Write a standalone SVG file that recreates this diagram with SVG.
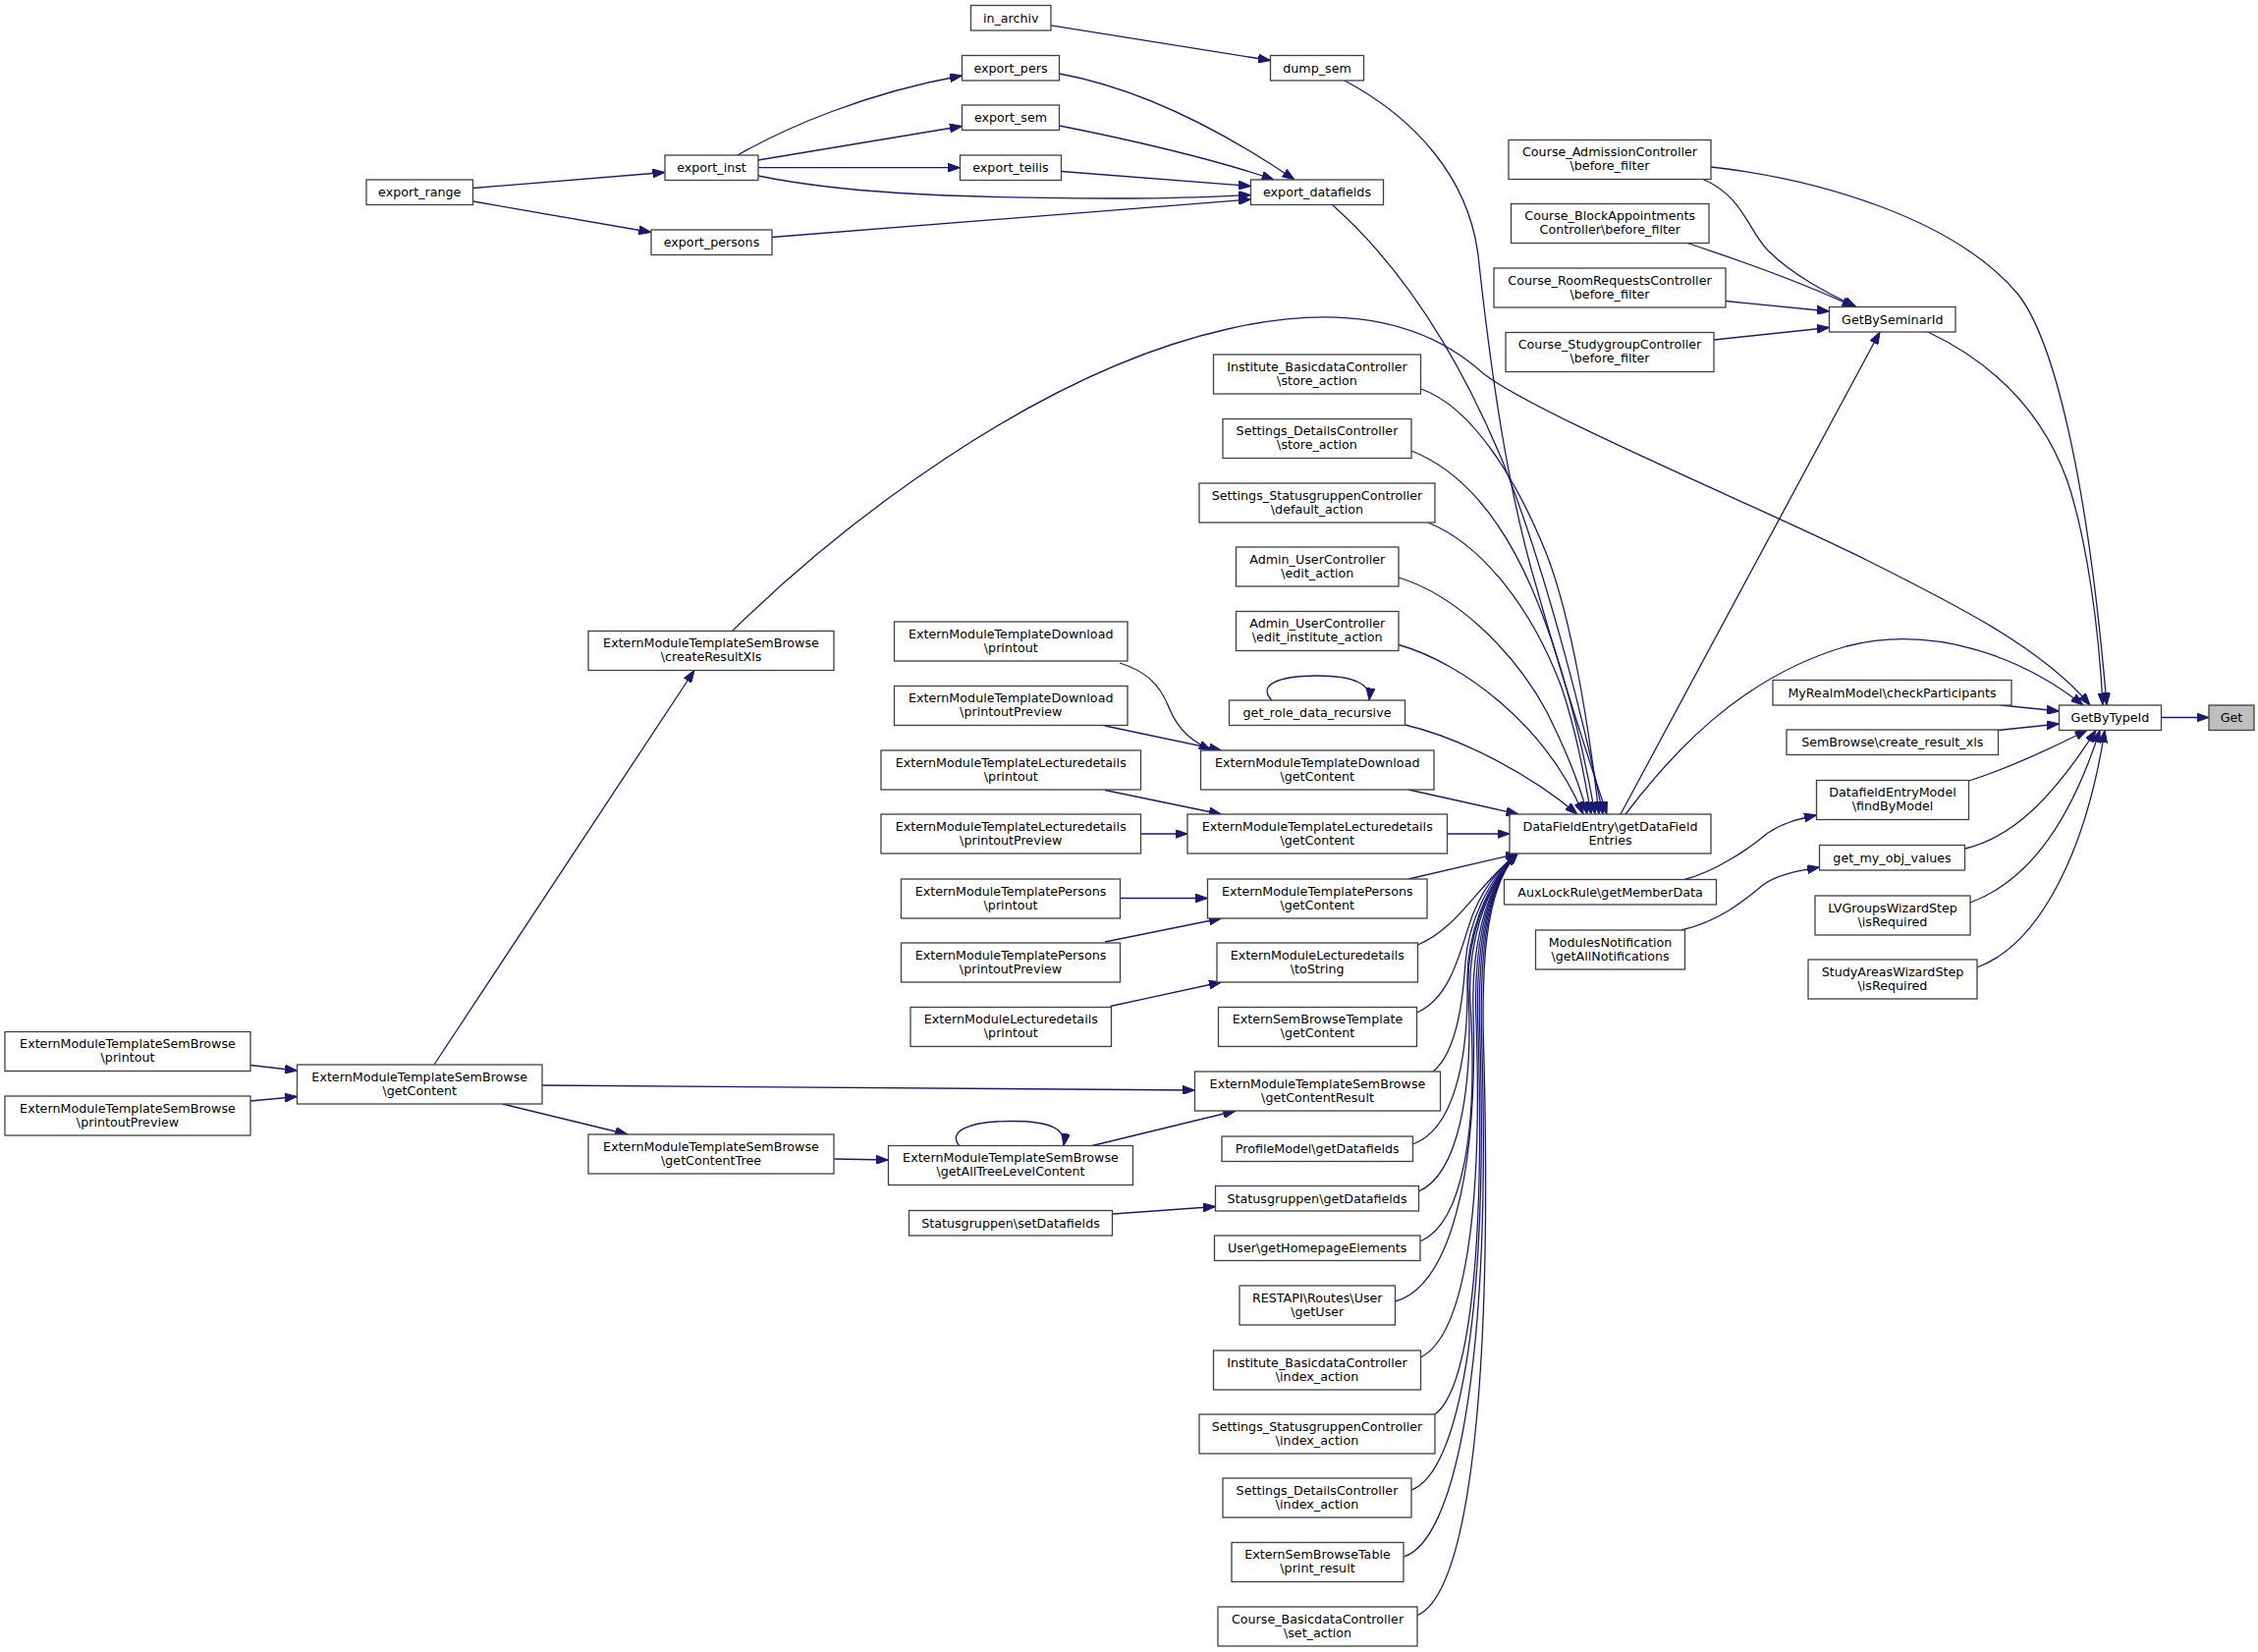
<svg xmlns="http://www.w3.org/2000/svg" width="2299" height="1682" viewBox="0 0 2299 1682">
<defs>
<style>
.node rect{fill:#ffffff;stroke:#404040;stroke-width:1.3}
.node text{font-family:"DejaVu Sans","Liberation Sans",sans-serif;font-size:12.7px;text-anchor:middle;fill:#000000}
#n_Get rect{fill:#bfbfbf}
#edges path{fill:none;stroke:#191970;stroke-width:1.3;marker-end:url(#ah)}
</style>
<marker id="ah" viewBox="0 0 12.5 9" markerWidth="12.5" markerHeight="9" refX="12.5" refY="4.5" orient="auto" markerUnits="userSpaceOnUse">
<path d="M0,0 L12.5,4.5 L0,9 Z" fill="#191970" stroke="#191970" stroke-width="1"/>
</marker>
</defs>
<rect x="0" y="0" width="2299" height="1682" fill="#ffffff"/>
<g id="edges">
<path d="M2200.5,730.5 L2249,730.5"/>
<path d="M1742,170 C1850,182 1990,222 2055,300 C2090,345 2125,480 2145,718"/>
<path d="M1963,338 C2030,370 2080,420 2105,490 C2125,550 2137,640 2141,718"/>
<path d="M745.5,642.5 C850,540 1050,380 1250,335 C1380,305 1460,335 1510,380 C1560,420 1800,520 1900,570 C1990,615 2080,660 2128,718"/>
<path d="M1655,829 C1700,770 1770,690 1880,658 C1970,635 2060,670 2121,718"/>
<path d="M2037,718 L2096.5,724"/>
<path d="M2034.5,743.5 L2096.5,737"/>
<path d="M2004.5,795 C2040,784 2080,766 2125,743.5"/>
<path d="M2001,864 C2050,852 2090,812 2134,743.5"/>
<path d="M2006,919 C2070,895 2110,830 2138,743.5"/>
<path d="M2013,985 C2080,960 2125,860 2143,743.5"/>
<path d="M1734,182.5 C1775,200 1780,235 1800,255 C1825,280 1860,298 1890,312.5"/>
<path d="M1718,247.5 C1780,268 1840,290 1888,312.5"/>
<path d="M1757,306.5 L1862.5,317"/>
<path d="M1745,346 L1862.5,333.5"/>
<path d="M1650,829 L1914,338"/>
<path d="M1369,82 C1440,120 1495,180 1505,260 C1518,380 1535,500 1565,600 C1590,690 1620,780 1636,829"/>
<path d="M1357,209 C1420,265 1480,350 1530,470 C1570,570 1610,720 1632,829"/>
<path d="M1447,396 C1500,415 1545,490 1575,565 C1600,630 1618,740 1628,829"/>
<path d="M1437,459 C1490,480 1530,530 1560,600 C1590,670 1612,760 1624,829"/>
<path d="M1454,532 C1510,555 1560,620 1590,700 C1605,745 1613,790 1620,829"/>
<path d="M1424,588 C1480,605 1540,660 1575,725 C1595,765 1609,800 1616,829"/>
<path d="M1424,656.5 C1490,675 1575,740 1612,829"/>
<path d="M1430.5,738 C1490,752 1560,790 1606,829"/>
<path d="M1295,713 C1280,698 1300,688 1341,688 C1380,688 1396,697 1394,713"/>
<path d="M1434,804 L1546,829"/>
<path d="M1473.5,849 L1537,849"/>
<path d="M1434,895 L1546,869"/>
<path d="M1443.5,962 C1485,945 1505,900 1545,869"/>
<path d="M1442.5,1031 C1480,1015 1488,960 1500,930 C1510,905 1525,885 1545,869"/>
<path d="M1459,1091 C1485,1070 1490,1010 1492,980 C1495,940 1515,895 1545,869"/>
<path d="M1438.5,1165 C1480,1150 1495,1080 1494,1000 C1493,955 1512,900 1545,869"/>
<path d="M1444.5,1213 C1485,1195 1500,1110 1495,1010 C1493,960 1510,905 1545,869"/>
<path d="M1446,1264 C1490,1245 1505,1150 1497,1020 C1494,965 1510,905 1545,869"/>
<path d="M1420.5,1325 C1475,1310 1505,1200 1500,1030 C1498,970 1510,905 1545,869"/>
<path d="M1446.5,1382 C1490,1360 1510,1240 1503,1040 C1500,975 1510,905 1545,869"/>
<path d="M1461,1440 C1495,1415 1512,1280 1505,1050 C1502,980 1510,905 1545,869"/>
<path d="M1437,1517 C1485,1500 1515,1340 1507,1060 C1504,985 1510,905 1545,869"/>
<path d="M1429,1585 C1480,1570 1518,1400 1509,1070 C1506,990 1510,905 1545,869"/>
<path d="M1442.5,1645 C1490,1625 1520,1450 1511,1080 C1508,995 1510,905 1545,869"/>
<path d="M481.5,191.5 L677,175.5"/>
<path d="M481.5,205 L663,236.5"/>
<path d="M751,158 C800,130 880,95 979.5,77"/>
<path d="M772,163 L979.5,128.5"/>
<path d="M772,170.7 L977.5,170.7"/>
<path d="M772,179 C850,195 950,202 1150,202 C1200,202 1240,200 1273.5,198.5"/>
<path d="M786,241.5 L1273.5,203"/>
<path d="M1080.5,174.5 L1273.5,189.5"/>
<path d="M1078.5,128 C1150,142 1240,163 1297,183"/>
<path d="M1078.5,75 C1160,90 1240,130 1318,183"/>
<path d="M1070,25.8 L1293.5,61.5"/>
<path d="M255,1084.5 L302.5,1090"/>
<path d="M255,1121 L302.5,1116.5"/>
<path d="M442,1084 L707,682.5"/>
<path d="M552,1105 L1216.5,1110"/>
<path d="M511.5,1124 L639,1155"/>
<path d="M849.5,1180 L904.5,1181"/>
<path d="M976.5,1166.5 C965,1152 985,1141.5 1030,1141.5 C1068,1141.5 1086,1149 1083,1166.5"/>
<path d="M1112,1166.5 L1258,1131"/>
<path d="M1133,1236 L1237.5,1228.5"/>
<path d="M1140,675 C1165,683 1180,695 1190,720 C1200,745 1215,755 1233,764"/>
<path d="M1125,739 L1243.5,764"/>
<path d="M1125,804.5 L1243.5,829"/>
<path d="M1161.5,849 L1209,849"/>
<path d="M1140.5,914.5 L1229.5,914.5"/>
<path d="M1125,959 L1243.5,935"/>
<path d="M1130.5,1024.5 L1243.5,1000"/>
<path d="M1715,895.5 C1745,888 1780,865 1800,848 C1815,838 1830,834 1849.5,830"/>
<path d="M1712,947 C1750,938 1775,918 1795,901 C1810,890 1830,887 1852.5,883"/>
</g>
<g id="n_Get" class="node"><rect x="2249" y="718" width="46" height="25.5"/><text x="2272" y="735">Get</text></g>
<g id="n_GetByTypeId" class="node"><rect x="2096.5" y="718" width="104" height="25.5"/><text x="2148.5" y="735">GetByTypeId</text></g>
<g id="n_GetBySeminarId" class="node"><rect x="1862.5" y="312.5" width="128.5" height="25.5"/><text x="1926.75" y="329.5">GetBySeminarId</text></g>
<g id="n_CourseAdmission" class="node"><rect x="1536" y="142.5" width="206" height="40"/><text><tspan x="1639" y="159">Course_AdmissionController</tspan><tspan x="1639" y="173">\before_filter</tspan></text></g>
<g id="n_CourseBlock" class="node"><rect x="1538.5" y="207.5" width="201.5" height="40"/><text><tspan x="1639.25" y="224">Course_BlockAppointments</tspan><tspan x="1639.25" y="238">Controller\before_filter</tspan></text></g>
<g id="n_CourseRoom" class="node"><rect x="1521" y="273" width="236" height="40"/><text><tspan x="1639" y="289.5">Course_RoomRequestsController</tspan><tspan x="1639" y="303.5">\before_filter</tspan></text></g>
<g id="n_CourseStudy" class="node"><rect x="1533" y="338.5" width="212" height="40"/><text><tspan x="1639" y="355">Course_StudygroupController</tspan><tspan x="1639" y="369">\before_filter</tspan></text></g>
<g id="n_MyRealm" class="node"><rect x="1805" y="692.5" width="243" height="25.5"/><text x="1926.5" y="709.5">MyRealmModel\checkParticipants</text></g>
<g id="n_SemBrowseXls" class="node"><rect x="1819" y="743" width="215.5" height="25.5"/><text x="1926.75" y="760">SemBrowse\create_result_xls</text></g>
<g id="n_FindByModel" class="node"><rect x="1849.5" y="794.5" width="155" height="40"/><text><tspan x="1927" y="811">DatafieldEntryModel</tspan><tspan x="1927" y="825">\findByModel</tspan></text></g>
<g id="n_GetMyObj" class="node"><rect x="1852.5" y="860.5" width="148" height="25.5"/><text x="1926.5" y="877.5">get_my_obj_values</text></g>
<g id="n_LVGroups" class="node"><rect x="1848" y="912" width="158" height="40"/><text><tspan x="1927" y="928.5">LVGroupsWizardStep</tspan><tspan x="1927" y="942.5">\isRequired</tspan></text></g>
<g id="n_StudyAreas" class="node"><rect x="1841" y="977" width="172" height="40"/><text><tspan x="1927" y="993.5">StudyAreasWizardStep</tspan><tspan x="1927" y="1007.5">\isRequired</tspan></text></g>
<g id="n_DFE" class="node"><rect x="1537" y="829" width="205" height="40"/><text><tspan x="1639.5" y="845.5">DataFieldEntry\getDataField</tspan><tspan x="1639.5" y="859.5">Entries</tspan></text></g>
<g id="n_AuxLock" class="node"><rect x="1531.5" y="895.5" width="216" height="25.5"/><text x="1639.5" y="912.5">AuxLockRule\getMemberData</text></g>
<g id="n_ModNotif" class="node"><rect x="1563.5" y="947" width="152" height="40"/><text><tspan x="1639.5" y="963.5">ModulesNotification</tspan><tspan x="1639.5" y="977.5">\getAllNotifications</tspan></text></g>
<g id="n_dump_sem" class="node"><rect x="1293.5" y="56.5" width="95" height="25.5"/><text x="1341" y="73.5">dump_sem</text></g>
<g id="n_export_datafields" class="node"><rect x="1273.5" y="183" width="135" height="25.5"/><text x="1341" y="200">export_datafields</text></g>
<g id="n_InstStore" class="node"><rect x="1235.5" y="361" width="211" height="40"/><text><tspan x="1341" y="377.5">Institute_BasicdataController</tspan><tspan x="1341" y="391.5">\store_action</tspan></text></g>
<g id="n_SetDetStore" class="node"><rect x="1245" y="426.5" width="192" height="40"/><text><tspan x="1341" y="443">Settings_DetailsController</tspan><tspan x="1341" y="457">\store_action</tspan></text></g>
<g id="n_SetStatDefault" class="node"><rect x="1221" y="492" width="240" height="40"/><text><tspan x="1341" y="508.5">Settings_StatusgruppenController</tspan><tspan x="1341" y="522.5">\default_action</tspan></text></g>
<g id="n_AdminEdit" class="node"><rect x="1258.5" y="557" width="165.5" height="40"/><text><tspan x="1341.25" y="573.5">Admin_UserController</tspan><tspan x="1341.25" y="587.5">\edit_action</tspan></text></g>
<g id="n_AdminEditInst" class="node"><rect x="1258.5" y="622.5" width="165.5" height="40"/><text><tspan x="1341.25" y="639">Admin_UserController</tspan><tspan x="1341.25" y="653">\edit_institute_action</tspan></text></g>
<g id="n_GetRole" class="node"><rect x="1251.5" y="713" width="179" height="25.5"/><text x="1341" y="730">get_role_data_recursive</text></g>
<g id="n_DLGetContent" class="node"><rect x="1222.5" y="764" width="237.5" height="40"/><text><tspan x="1341.25" y="780.5">ExternModuleTemplateDownload</tspan><tspan x="1341.25" y="794.5">\getContent</tspan></text></g>
<g id="n_LDGetContent" class="node"><rect x="1209" y="829" width="264.5" height="40"/><text><tspan x="1341.25" y="845.5">ExternModuleTemplateLecturedetails</tspan><tspan x="1341.25" y="859.5">\getContent</tspan></text></g>
<g id="n_PersGetContent" class="node"><rect x="1229.5" y="895" width="223.5" height="40"/><text><tspan x="1341.25" y="911.5">ExternModuleTemplatePersons</tspan><tspan x="1341.25" y="925.5">\getContent</tspan></text></g>
<g id="n_LecToString" class="node"><rect x="1239" y="960" width="204.5" height="40"/><text><tspan x="1341.25" y="976.5">ExternModuleLecturedetails</tspan><tspan x="1341.25" y="990.5">\toString</tspan></text></g>
<g id="n_SemBrowseTplGetContent" class="node"><rect x="1240.5" y="1025.5" width="202" height="40"/><text><tspan x="1341.5" y="1042">ExternSemBrowseTemplate</tspan><tspan x="1341.5" y="1056">\getContent</tspan></text></g>
<g id="n_GetContentResult" class="node"><rect x="1216.5" y="1091" width="250" height="40"/><text><tspan x="1341.5" y="1107.5">ExternModuleTemplateSemBrowse</tspan><tspan x="1341.5" y="1121.5">\getContentResult</tspan></text></g>
<g id="n_ProfileModel" class="node"><rect x="1244" y="1157" width="194.5" height="25.5"/><text x="1341.25" y="1174">ProfileModel\getDatafields</text></g>
<g id="n_StatGetDF" class="node"><rect x="1237.5" y="1207.5" width="207" height="25.5"/><text x="1341" y="1224.5">Statusgruppen\getDatafields</text></g>
<g id="n_UserHome" class="node"><rect x="1236.5" y="1258" width="209.5" height="25.5"/><text x="1341.25" y="1275">User\getHomepageElements</text></g>
<g id="n_RestUser" class="node"><rect x="1262" y="1309" width="158.5" height="40"/><text><tspan x="1341.25" y="1325.5">RESTAPI\Routes\User</tspan><tspan x="1341.25" y="1339.5">\getUser</tspan></text></g>
<g id="n_InstIndex" class="node"><rect x="1235.5" y="1375" width="211" height="40"/><text><tspan x="1341" y="1391.5">Institute_BasicdataController</tspan><tspan x="1341" y="1405.5">\index_action</tspan></text></g>
<g id="n_SetStatIndex" class="node"><rect x="1221" y="1440" width="240" height="40"/><text><tspan x="1341" y="1456.5">Settings_StatusgruppenController</tspan><tspan x="1341" y="1470.5">\index_action</tspan></text></g>
<g id="n_SetDetIndex" class="node"><rect x="1245" y="1505" width="192" height="40"/><text><tspan x="1341" y="1521.5">Settings_DetailsController</tspan><tspan x="1341" y="1535.5">\index_action</tspan></text></g>
<g id="n_SemBrowseTable" class="node"><rect x="1254" y="1570.5" width="175" height="40"/><text><tspan x="1341.5" y="1587">ExternSemBrowseTable</tspan><tspan x="1341.5" y="1601">\print_result</tspan></text></g>
<g id="n_CourseBasicSet" class="node"><rect x="1240" y="1636" width="203" height="40"/><text><tspan x="1341.5" y="1652.5">Course_BasicdataController</tspan><tspan x="1341.5" y="1666.5">\set_action</tspan></text></g>
<g id="n_in_archiv" class="node"><rect x="988.5" y="5.5" width="81.5" height="25.5"/><text x="1029.25" y="22.5">in_archiv</text></g>
<g id="n_export_pers" class="node"><rect x="979.5" y="56.5" width="99" height="25.5"/><text x="1029" y="73.5">export_pers</text></g>
<g id="n_export_sem" class="node"><rect x="979.5" y="107" width="99" height="25.5"/><text x="1029" y="124">export_sem</text></g>
<g id="n_export_teilis" class="node"><rect x="977.5" y="158" width="103" height="25.5"/><text x="1029" y="175">export_teilis</text></g>
<g id="n_DLPrintout" class="node"><rect x="910.5" y="633" width="237.5" height="40"/><text><tspan x="1029.25" y="649.5">ExternModuleTemplateDownload</tspan><tspan x="1029.25" y="663.5">\printout</tspan></text></g>
<g id="n_DLPreview" class="node"><rect x="910.5" y="698.5" width="237.5" height="40"/><text><tspan x="1029.25" y="715">ExternModuleTemplateDownload</tspan><tspan x="1029.25" y="729">\printoutPreview</tspan></text></g>
<g id="n_LDPrintout" class="node"><rect x="897" y="764" width="264.5" height="40"/><text><tspan x="1029.25" y="780.5">ExternModuleTemplateLecturedetails</tspan><tspan x="1029.25" y="794.5">\printout</tspan></text></g>
<g id="n_LDPreview" class="node"><rect x="897" y="829" width="264.5" height="40"/><text><tspan x="1029.25" y="845.5">ExternModuleTemplateLecturedetails</tspan><tspan x="1029.25" y="859.5">\printoutPreview</tspan></text></g>
<g id="n_PersPrintout" class="node"><rect x="917.5" y="895" width="223" height="40"/><text><tspan x="1029" y="911.5">ExternModuleTemplatePersons</tspan><tspan x="1029" y="925.5">\printout</tspan></text></g>
<g id="n_PersPreview" class="node"><rect x="917.5" y="960" width="223" height="40"/><text><tspan x="1029" y="976.5">ExternModuleTemplatePersons</tspan><tspan x="1029" y="990.5">\printoutPreview</tspan></text></g>
<g id="n_LecPrintout" class="node"><rect x="927" y="1025.5" width="204.5" height="40"/><text><tspan x="1029.25" y="1042">ExternModuleLecturedetails</tspan><tspan x="1029.25" y="1056">\printout</tspan></text></g>
<g id="n_AllTreeLevel" class="node"><rect x="904.5" y="1166.5" width="249" height="40"/><text><tspan x="1029" y="1183">ExternModuleTemplateSemBrowse</tspan><tspan x="1029" y="1197">\getAllTreeLevelContent</tspan></text></g>
<g id="n_StatSetDF" class="node"><rect x="925.5" y="1232.5" width="207" height="25.5"/><text x="1029" y="1249.5">Statusgruppen\setDatafields</text></g>
<g id="n_export_inst" class="node"><rect x="677" y="158" width="95" height="25.5"/><text x="724.5" y="175">export_inst</text></g>
<g id="n_export_persons" class="node"><rect x="663" y="234" width="123" height="25.5"/><text x="724.5" y="251">export_persons</text></g>
<g id="n_CreateResultXls" class="node"><rect x="599" y="642.5" width="250" height="40"/><text><tspan x="724" y="659">ExternModuleTemplateSemBrowse</tspan><tspan x="724" y="673">\createResultXls</tspan></text></g>
<g id="n_GetContentTree" class="node"><rect x="599" y="1155" width="250" height="40"/><text><tspan x="724" y="1171.5">ExternModuleTemplateSemBrowse</tspan><tspan x="724" y="1185.5">\getContentTree</tspan></text></g>
<g id="n_export_range" class="node"><rect x="373" y="183" width="108.5" height="25.5"/><text x="427.25" y="200">export_range</text></g>
<g id="n_SBGetContent" class="node"><rect x="302.5" y="1084" width="249.5" height="40"/><text><tspan x="427.25" y="1100.5">ExternModuleTemplateSemBrowse</tspan><tspan x="427.25" y="1114.5">\getContent</tspan></text></g>
<g id="n_SBPrintout" class="node"><rect x="5" y="1050.5" width="250" height="40"/><text><tspan x="130" y="1067">ExternModuleTemplateSemBrowse</tspan><tspan x="130" y="1081">\printout</tspan></text></g>
<g id="n_SBPreview" class="node"><rect x="5" y="1116" width="250" height="40"/><text><tspan x="130" y="1132.5">ExternModuleTemplateSemBrowse</tspan><tspan x="130" y="1146.5">\printoutPreview</tspan></text></g>
</svg>
